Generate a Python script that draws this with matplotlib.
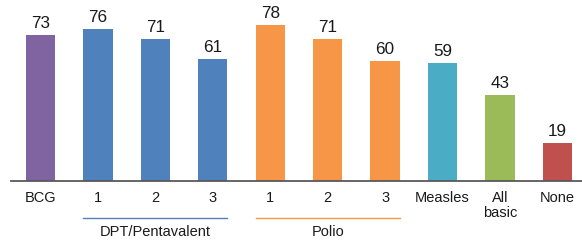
import matplotlib
matplotlib.use('Agg')
from matplotlib import pyplot as plt
from matplotlib import transforms

plt.rcParams['font.family'] = ['Liberation Sans', 'DejaVu Sans']

categories = ['BCG', '1', '2', '3', '1', '2', '3', 'Measles', 'All\nbasic', 'None']
values = [73, 76, 71, 61, 78, 71, 60, 59, 43, 19]
colors = ['#8064A2', '#4F81BD', '#4F81BD', '#4F81BD', '#F79646', '#F79646', '#F79646',
          '#4BACC6', '#9BBB59', '#C0504D']
groups = [('DPT/Pentavalent', 1, 3, '#4F81BD'), ('Polio', 4, 6, '#F79646')]


def main():
	fig = plt.figure(figsize=(5.82, 2.42), dpi=100)
	ax = fig.add_axes([11 / 582, 61 / 242, 571 / 582, 181 / 242])

	x = range(len(values))
	bars = ax.bar(x, values, width=0.51, color=colors, zorder=2)
	ax.bar_label(bars, labels=[str(v) for v in values], padding=3, fontsize=12.3, color='#1a1a1a')

	ax.set_xlim(-0.515, 9.43)
	ax.set_ylim(0, 90.5)
	for side in ['top', 'right', 'left']:
		ax.spines[side].set_visible(False)
	ax.spines['bottom'].set_color('#595959')
	ax.spines['bottom'].set_linewidth(1.3)
	ax.spines['bottom'].set_zorder(3)
	ax.set_yticks([])
	ax.set_xticks(list(x))
	ax.set_xticklabels(categories, fontsize=10.5, color='#1a1a1a', linespacing=1.05)
	ax.tick_params(axis='x', length=0, pad=7.5)

	# group brackets under the category labels
	trans = transforms.blended_transform_factory(ax.transData, fig.transFigure)
	for name, start, end, col in groups:
		ax.plot([start - 0.255, end + 0.255], [0.099, 0.099], color=col, lw=1,
				transform=trans, clip_on=False)
		ax.text((start + end) / 2, 0.04, name, transform=trans, ha='center', va='center',
				fontsize=10.5, color='#1a1a1a')

	fig.savefig('out.png', dpi=100)


if __name__ == "__main__":
	main()
